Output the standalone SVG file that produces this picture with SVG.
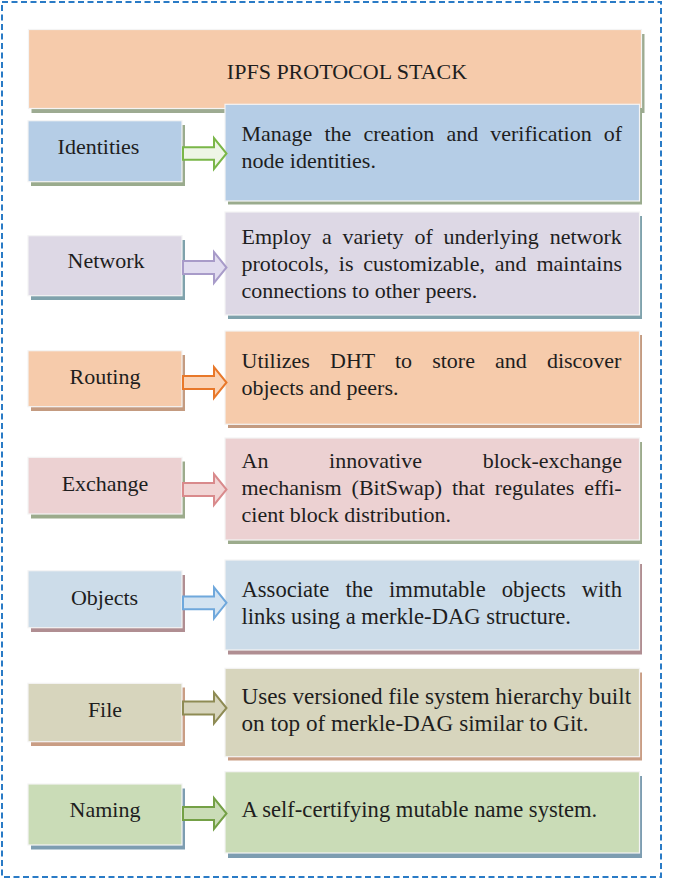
<svg xmlns="http://www.w3.org/2000/svg" width="685" height="880" viewBox="0 0 685 880">
<style>
text{font-size:22px;fill:#1e1e1e}
.lbl{text-anchor:middle}
.big{font-size:23.2px}
.mid{font-size:22.6px}
.box{stroke:#f4f4f4;stroke-width:1.2}
.arr{stroke-width:2;stroke-linejoin:miter}
</style>
<rect x="2" y="2" width="659" height="875" fill="#ffffff" stroke="#2a7bc6" stroke-width="2" stroke-dasharray="6 3.5"/>
<g font-family="'Liberation Serif', 'Times New Roman', Times, 'DejaVu Serif', serif">
<g id="title">
<rect x="31.5" y="34" width="613" height="79" fill="#9dab92"/>
<rect class="box" x="28.5" y="29.5" width="613" height="79" fill="#f6cbab"/>
<text class="lbl" x="347" y="79">IPFS PROTOCOL STACK</text>
</g>
<g id="identities">
<rect x="31" y="125" width="154" height="61" fill="#9aab8d"/>
<rect class="box" x="28" y="120.7" width="154" height="61" fill="#b5cde6"/>
<text class="lbl" x="98.5" y="154">Identities</text>
</g>
<g id="identities-desc">
<rect x="228" y="108" width="414" height="96.5" fill="#9aab8d"/>
<rect class="box" x="225" y="104.3" width="414.5" height="96.7" fill="#b5cde6"/>
<text x="241.5" y="140.5" word-spacing="6.6">Manage the creation and verification of</text>
<text x="241.5" y="167.5">node identities.</text>
</g>
<g id="network">
<rect x="31" y="240" width="154" height="60" fill="#7fa2ac"/>
<rect class="box" x="28" y="235.7" width="154" height="60" fill="#ddd8e5"/>
<text class="lbl" x="106" y="268">Network</text>
</g>
<g id="network-desc">
<rect x="228" y="216" width="414" height="103" fill="#7fa2ac"/>
<rect class="box" x="225" y="212" width="414.5" height="103" fill="#ddd8e5"/>
<text x="241.5" y="244" word-spacing="5.3">Employ a variety of underlying network</text>
<text x="241.5" y="271" word-spacing="4.4">protocols, is customizable, and maintains</text>
<text x="241.5" y="298">connections to other peers.</text>
</g>
<g id="routing">
<rect x="31" y="355" width="154" height="56" fill="#c49b80"/>
<rect class="box" x="28" y="350.7" width="154" height="56" fill="#f6cbab"/>
<text class="lbl" x="105" y="384">Routing</text>
</g>
<g id="routing-desc">
<rect x="228" y="335" width="414" height="93" fill="#c49b80"/>
<rect class="box" x="225" y="331" width="414.5" height="93.3" fill="#f6cbab"/>
<text x="241.5" y="368" word-spacing="14.6">Utilizes DHT to store and discover</text>
<text x="241.5" y="395">objects and peers.</text>
</g>
<g id="exchange">
<rect x="31" y="461.5" width="154" height="57" fill="#9cab8c"/>
<rect class="box" x="28" y="457.3" width="154" height="56.7" fill="#ecd1d2"/>
<text class="lbl" x="105" y="491">Exchange</text>
</g>
<g id="exchange-desc">
<rect x="228" y="442" width="414" height="102" fill="#9cab8c"/>
<rect class="box" x="225" y="438" width="414.5" height="102" fill="#ecd1d2"/>
<text x="241.5" y="468" word-spacing="55.2">An innovative block-exchange</text>
<text x="241.5" y="495" word-spacing="4.4">mechanism (BitSwap) that regulates effi-</text>
<text x="241.5" y="522">cient block distribution.</text>
</g>
<g id="objects">
<rect x="31" y="575" width="154" height="57" fill="#b08e92"/>
<rect class="box" x="28" y="570.7" width="154" height="57" fill="#ccdce9"/>
<text class="lbl" x="104.5" y="605">Objects</text>
</g>
<g id="objects-desc">
<rect x="228" y="564" width="414" height="90.5" fill="#b08e92"/>
<rect class="box" x="225" y="560" width="414.5" height="90" fill="#ccdce9"/>
<text class="mid" x="241.5" y="597" word-spacing="10.4">Associate the immutable objects with</text>
<text class="mid" x="241.5" y="624">links using a merkle-DAG structure.</text>
</g>
<g id="file">
<rect x="31" y="687.5" width="154" height="58.5" fill="#c99d84"/>
<rect class="box" x="28" y="683.3" width="154" height="58.4" fill="#d7d5bd"/>
<text class="lbl" x="105" y="717">File</text>
</g>
<g id="file-desc">
<rect x="228" y="672.5" width="414" height="88" fill="#c99d84"/>
<rect class="box" x="225" y="668.3" width="414.5" height="88.4" fill="#d7d5bd"/>
<text class="big" x="241.5" y="704">Uses versioned file system hierarchy built</text>
<text class="big" x="241.5" y="731">on top of merkle-DAG similar to Git.</text>
</g>
<g id="naming">
<rect x="31" y="788.5" width="154" height="61" fill="#7d9db1"/>
<rect class="box" x="28" y="784" width="154" height="61" fill="#cadcb7"/>
<text class="lbl" x="105" y="817">Naming</text>
</g>
<g id="naming-desc">
<rect x="228" y="776" width="414" height="82" fill="#7d9db1"/>
<rect class="box" x="225" y="771.7" width="414.5" height="81.3" fill="#cadcb7"/>
<text class="mid" x="241.5" y="817">A self-certifying mutable name system.</text>
</g>
</g>
<g id="connectors">
<path class="arr" d="M183,147.3H214V138L226.5,153.5L214,169V159.7H183Z" fill="#eef5e6" stroke="#7ab648"/>
<path class="arr" d="M183,261.1H214V252L226.5,267.5L214,283V273.9H183Z" fill="#e1dcef" stroke="#a89bc9"/>
<path class="arr" d="M183,376.1H214V367L226.5,382.5L214,398V388.9H183Z" fill="#fad3b6" stroke="#e8782a"/>
<path class="arr" d="M183,483.1H214V474L226.5,489.5L214,505V495.9H183Z" fill="#f1d5d5" stroke="#d98a8c"/>
<path class="arr" d="M183,596.4H214V587.3L226.5,602.8L214,618.3V609.2H183Z" fill="#d3e3f1" stroke="#6fa8dc"/>
<path class="arr" d="M183,701.6H214V692.5L226.5,708L214,723.5V714.4H183Z" fill="#d7d5bd" stroke="#8e8b54"/>
<path class="arr" d="M183,807.1H214V798L226.5,813.5L214,829V819.9H183Z" fill="#cadcb7" stroke="#74a046"/>
</g>
</svg>
